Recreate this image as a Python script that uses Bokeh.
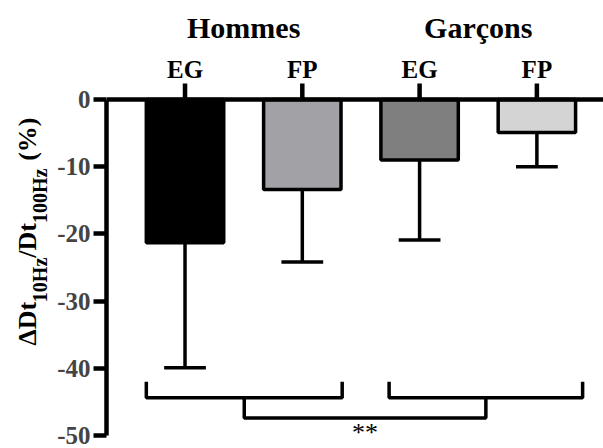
import numpy as np
from bokeh.plotting import figure
from bokeh.layouts import row
from bokeh.models import Span, FixedTicker, ColumnDataSource, Range1d
from bokeh.core.properties import value
from bokeh.embed import file_html
from bokeh.resources import INLINE

# ---- data ----
groups = ["Hommes", "Garçons"]
conditions = ["EG", "FP", "EG", "FP"]
means = [-21.3, -13.4, -9.0, -4.9]
sds = [18.6, 10.8, 11.9, 5.1]
colors = ["#000000", "#A2A1A6", "#7F7F7F", "#D4D4D4"]
y_ticks = [0, -10, -20, -30, -40, -50]
significance = "**"
ylabel_parts = ["ΔDt", "10Hz", "/Dt", "100Hz", "(%)"]
ylabel_kinds = ["main", "sub", "main", "sub", "main"]

# ---- layout constants ----
FONT = "Liberation Serif"
H = 448
LW, MW = 54, 549          # label strip width, main figure width
ZERO_PX, M50_PX = 99, 435  # pixel rows of y=0 and y=-50
PX = (M50_PX - ZERO_PX) / 50.0
Y1 = ZERO_PX / PX
Y0 = -(H - ZERO_PX) / PX
X0, X1 = 0.3305, 4.568
xs = list(range(1, len(means) + 1))
group_x = [1.5, 3.5]

def ydat(px_row):
    return -(px_row - ZERO_PX) / PX

p = figure(width=MW, height=H, x_range=(X0, X1), y_range=(Y0, Y1),
           output_backend="svg", toolbar_location=None, x_axis_type=None,
           title=None, min_border_left=49, min_border_right=0,
           min_border_top=0, min_border_bottom=0)
p.outline_line_color = None
p.grid.visible = False

ax = p.yaxis[0]
ax.bounds = (-50, 0)
ax.ticker = FixedTicker(ticks=y_ticks)
ax.major_label_overrides = {t: str(t) for t in y_ticks}
ax.minor_tick_line_color = None
ax.major_tick_out = 13
ax.major_tick_in = 0
ax.major_tick_line_width = 4.5
ax.axis_line_width = 4.5
ax.major_label_text_font = FONT
ax.major_label_text_font_style = "bold"
ax.major_label_text_font_size = "25px"
ax.major_label_standoff = 3

# error bars (downward only)
low = [m - s for m, s in zip(means, sds)]
p.segment(x0=xs, y0=means, x1=xs, y1=low, line_width=3.5, line_color="black")
cap = 0.178
p.segment(x0=[x - cap for x in xs], y0=low, x1=[x + cap for x in xs], y1=low,
          line_width=3.5, line_color="black")

# bars
p.vbar(x=xs, top=0, bottom=means, width=0.66, fill_color=colors,
       line_color="black", line_width=3.5)

# zero line with category ticks pointing up
p.add_layout(Span(location=0, dimension="width", line_width=4.5, line_color="black"))
p.segment(x0=xs, y0=0, x1=xs, y1=16 / PX, line_width=4.5, line_color="black")

# category and group labels
p.text(x=xs, y=ydat(69), text=conditions, text_align="center", text_baseline="middle",
       text_font=value(FONT), text_font_style="bold", text_font_size="25px", text_color="black")
p.text(x=group_x, y=ydat(27), text=groups, text_align="center", text_baseline="middle",
       text_font=value(FONT), text_font_style="bold", text_font_size="30px", text_color="black")

# significance brackets
br_top, br_mid, br_low = -42.0, -44.4, -47.4
spans = [(0.67, 2.34), (2.74, 4.39)]
for a, b in spans:
    p.line(x=[a, a, b, b], y=[br_top, br_mid, br_mid, br_top], line_width=3.5, line_color="black")
cl = (spans[0][0] + spans[0][1]) / 2
cr = (spans[1][0] + spans[1][1]) / 2
p.line(x=[cl, cl, cr, cr], y=[br_mid, br_low, br_low, br_mid], line_width=3.5, line_color="black")
p.text(x=[(cl + cr) / 2], y=[ydat(432)], text=[significance], text_align="center",
       text_baseline="middle", text_font=value(FONT), text_font_size="26px", text_color="black")

# ---- rotated y-axis label strip (with subscripts) ----
q = figure(width=LW, height=H, x_range=Range1d(0, LW), y_range=Range1d(H, 0),
           output_backend="svg", toolbar_location=None, x_axis_type=None, y_axis_type=None,
           title=None, min_border_left=0, min_border_right=0,
           min_border_top=0, min_border_bottom=0)
q.outline_line_color = None
q.grid.visible = False

sizes = {"main": 26, "sub": 20}
mid_x = {"main": 27, "sub": 39}
em = {"ΔDt": 1.667, "10Hz": 2.222, "/Dt": 1.333, "100Hz": 2.722, "(%)": 1.667}
gap_before = {"(%)": 0.3}
pos = 345.0
lx, ly, lt, ls = [], [], [], []
for txt, kind in zip(ylabel_parts, ylabel_kinds):
    pos -= gap_before.get(txt, 0) * sizes[kind]
    lx.append(mid_x[kind]); ly.append(pos); lt.append(txt); ls.append(f"{sizes[kind]}px")
    pos -= em[txt] * sizes[kind]
src = ColumnDataSource(dict(x=lx, y=ly, text=lt, size=ls))
q.text(x="x", y="y", text="text", source=src, angle=np.pi / 2, text_align="left",
       text_baseline="middle", text_font=value(FONT), text_font_style="bold",
       text_font_size="size", text_color="black")

layout = row(q, p, spacing=0)
open("out.html", "w").write(file_html(layout, INLINE))
